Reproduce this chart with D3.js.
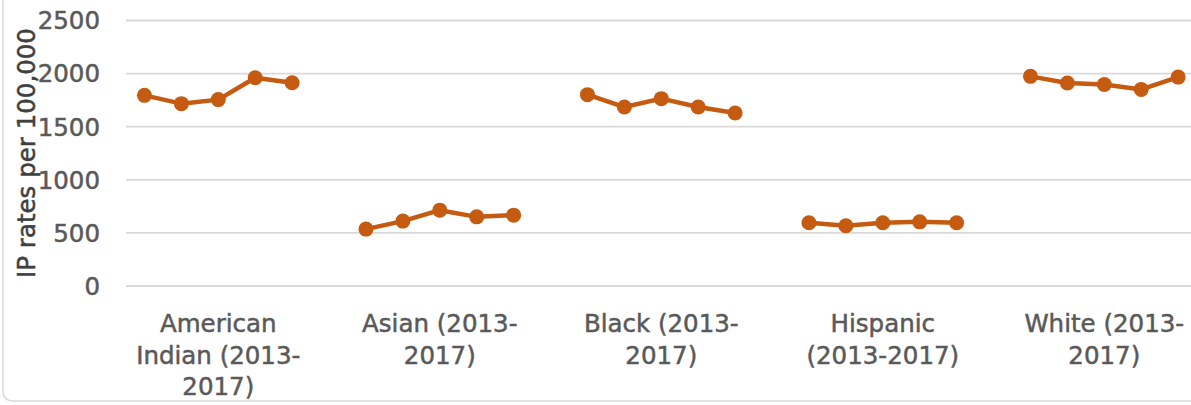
<!DOCTYPE html>
<html lang="en">
  <head>
    <meta charset="UTF-8" />
    <title>IP rates per 100,000</title>
    <style>
      body {
        margin: 0;
        background: #fff;
        font-family: "DejaVu Sans", sans-serif;
      }
      svg {
        display: block;
      }
      .lbl {
        stroke-width: 0.5px;
        paint-order: stroke;
      }
    </style>
  </head>
  <body>
    <script src="https://cdn.jsdelivr.net/npm/d3@7"></script>
    <script>
      // data
      var groups = ["American Indian", "Asian", "Black", "Hispanic", "White"];
      var groupLabels = [
        ["American", "Indian (2013-", "2017)"],
        ["Asian (2013-", "2017)"],
        ["Black (2013-", "2017)"],
        ["Hispanic", "(2013-2017)"],
        ["White (2013-", "2017)"]
      ];
      var years = ["2013", "2014", "2015", "2016", "2017"];
      var americanIndian = [1795, 1717, 1755, 1961, 1914];
      var asian = [536, 611, 714, 651, 667];
      var black = [1802, 1685, 1764, 1685, 1629];
      var hispanic = [595, 567, 595, 604, 595];
      var white = [1974, 1911, 1898, 1851, 1967];
      var yTicks = [0, 500, 1000, 1500, 2000, 2500];

      var rates = [americanIndian, asian, black, hispanic, white];

      var width = 1191,
        height = 405;
      var lineColor = "#c55a11";
      var gridColor = "#d9d9d9";
      var textColor = "#595959";

      var svg = d3
        .select("body")
        .append("svg")
        .attr("width", width)
        .attr("height", height);

      // chart area border (right/top edges fall outside the picture)
      svg
        .append("rect")
        .attr("x", 3)
        .attr("y", -20)
        .attr("width", width + 20)
        .attr("height", 421)
        .attr("rx", 9)
        .attr("fill", "none")
        .attr("stroke", gridColor)
        .attr("stroke-width", 1.5);

      var y = d3.scaleLinear().domain([0, 2500]).range([286, 20.5]);

      var x0 = d3
        .scaleBand()
        .domain(groups)
        .range([126, 126 + 5 * 221.5]);
      var x1 = d3
        .scaleBand()
        .domain(years.concat(["gap"]))
        .range([0, x0.bandwidth()]);

      function px(g, yr) {
        return x0(g) + x1(yr) + x1.bandwidth() / 2;
      }

      // gridlines
      svg
        .append("g")
        .selectAll("line")
        .data(yTicks)
        .join("line")
        .attr("x1", 126)
        .attr("x2", width)
        .attr("y1", function(d) { return y(d); })
        .attr("y2", function(d) { return y(d); })
        .attr("stroke", gridColor)
        .attr("stroke-width", 1.8);

      // y tick labels
      svg
        .append("g")
        .selectAll("text")
        .data(yTicks)
        .join("text")
        .attr("class", "lbl")
        .attr("x", 100)
        .attr("y", function(d) { return y(d); })
        .attr("dy", "0.36em")
        .attr("text-anchor", "end")
        .attr("fill", textColor)
        .attr("stroke", textColor)
        .style("font-size", "24.5px")
        .text(function(d) { return d; });

      // y axis title
      svg
        .append("text")
        .attr("class", "lbl")
        .attr("transform", "translate(35,153) rotate(-90)")
        .attr("text-anchor", "middle")
        .attr("fill", "#404040")
        .attr("stroke", "#404040")
        .style("font-size", "24.5px")
        .text("IP rates per 100,000");

      // lines and markers per group
      var line = d3
        .line()
        .x(function(d) { return d.x; })
        .y(function(d) { return y(d.v); });

      groups.forEach(function(g, gi) {
        var pts = rates[gi].map(function(v, i) {
          return { x: px(g, years[i]), v: v };
        });
        var grp = svg.append("g");
        grp
          .append("path")
          .datum(pts)
          .attr("d", line)
          .attr("fill", "none")
          .attr("stroke", lineColor)
          .attr("stroke-width", 4.5)
          .attr("stroke-linejoin", "round");
        grp
          .selectAll("circle")
          .data(pts)
          .join("circle")
          .attr("cx", function(d) { return d.x; })
          .attr("cy", function(d) { return y(d.v); })
          .attr("r", 7.5)
          .attr("fill", lineColor);
      });

      // category labels, centred on the middle point of each group
      groups.forEach(function(g, gi) {
        var t = svg
          .append("text")
          .attr("class", "lbl")
          .attr("text-anchor", "middle")
          .attr("fill", textColor)
          .attr("stroke", textColor)
          .style("font-size", "24.5px");
        groupLabels[gi].forEach(function(s, li) {
          t.append("tspan")
            .attr("x", px(g, years[2]))
            .attr("y", 332 + li * 31.7)
            .text(s);
        });
      });
    </script>
  </body>
</html>
